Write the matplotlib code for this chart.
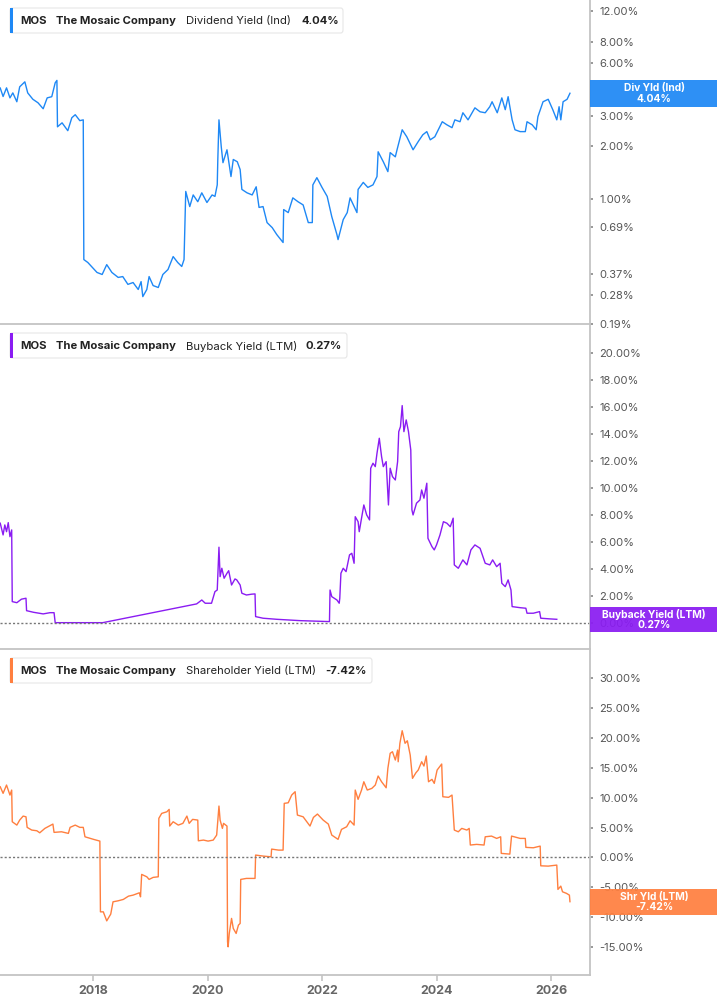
import matplotlib
matplotlib.use("Agg")
import matplotlib.pyplot as plt
from matplotlib.patches import FancyBboxPatch, Rectangle
from matplotlib.ticker import FixedLocator, FuncFormatter, NullFormatter

plt.rcParams["font.family"] = ["Inter", "DejaVu Sans"]

# ---- data (decimal years, percent) ----
div_years = [
    2016.38, 2016.43, 2016.49, 2016.55, 2016.60, 2016.67, 2016.72, 2016.81, 2016.86, 2016.95,
    2017.04, 2017.13, 2017.20, 2017.28, 2017.34, 2017.37, 2017.38, 2017.46, 2017.56, 2017.63,
    2017.69, 2017.77, 2017.83, 2017.84, 2017.91, 2018.07, 2018.16, 2018.24, 2018.33, 2018.44,
    2018.52, 2018.61, 2018.70, 2018.79, 2018.84, 2018.87, 2018.94, 2018.98, 2019.05, 2019.14,
    2019.22, 2019.31, 2019.40, 2019.48, 2019.55, 2019.59, 2019.62, 2019.69, 2019.75, 2019.83,
    2019.90, 2019.99, 2020.08, 2020.13, 2020.17, 2020.18, 2020.20, 2020.24, 2020.27, 2020.34,
    2020.41, 2020.45, 2020.52, 2020.57, 2020.60, 2020.69, 2020.78, 2020.85, 2020.90, 2020.97,
    2021.04, 2021.13, 2021.21, 2021.32, 2021.33, 2021.41, 2021.49, 2021.58, 2021.67, 2021.76,
    2021.83, 2021.84, 2021.91, 2022.00, 2022.09, 2022.17, 2022.26, 2022.28, 2022.37, 2022.44,
    2022.49, 2022.61, 2022.63, 2022.72, 2022.80, 2022.89, 2022.96, 2022.98, 2023.07, 2023.15,
    2023.19, 2023.28, 2023.31, 2023.40, 2023.48, 2023.59, 2023.68, 2023.76, 2023.83, 2023.89,
    2023.97, 2024.10, 2024.18, 2024.27, 2024.32, 2024.41, 2024.46, 2024.55, 2024.67, 2024.76,
    2024.85, 2024.93, 2024.97, 2025.06, 2025.14, 2025.20, 2025.25, 2025.32, 2025.37, 2025.46,
    2025.55, 2025.58, 2025.67, 2025.74, 2025.77, 2025.86, 2025.95, 2026.03, 2026.10, 2026.14,
    2026.17, 2026.21, 2026.28, 2026.33,
]
div_yield = [
    4.33, 3.87, 4.34, 3.80, 4.06, 3.61, 4.40, 4.70, 4.06, 3.73,
    3.56, 3.29, 3.80, 3.86, 4.64, 4.79, 2.59, 2.73, 2.46, 2.92,
    3.04, 2.81, 2.84, 0.446, 0.429, 0.376, 0.366, 0.417, 0.376, 0.352,
    0.356, 0.321, 0.329, 0.300, 0.333, 0.273, 0.300, 0.356, 0.316, 0.308,
    0.366, 0.391, 0.464, 0.429, 0.407, 0.446, 1.10, 0.90, 1.05, 0.96,
    1.08, 0.95, 1.05, 1.03, 1.20, 1.68, 2.84, 1.99, 1.61, 1.91,
    1.34, 1.68, 1.63, 1.47, 1.13, 1.08, 1.05, 1.17, 0.89, 0.90,
    0.728, 0.681, 0.621, 0.559, 0.865, 0.831, 1.01, 0.96, 0.92, 0.728,
    0.728, 1.20, 1.32, 1.16, 1.03, 0.788, 0.621, 0.581, 0.757, 0.831,
    1.01, 0.831, 1.13, 1.24, 1.16, 1.20, 1.34, 1.86, 1.63, 1.43,
    1.84, 1.74, 1.91, 2.49, 2.27, 1.91, 2.13, 2.33, 2.43, 2.18,
    2.27, 2.77, 2.66, 2.56, 2.84, 2.77, 3.12, 2.84, 3.33, 3.16,
    3.12, 3.38, 3.61, 3.12, 3.80, 3.25, 3.86, 2.84, 2.49, 2.43,
    2.43, 2.77, 2.66, 2.49, 2.96, 3.61, 3.73, 3.25, 2.84, 3.38,
    2.84, 3.61, 3.73, 4.04,
]

buy_years = [
    2016.38, 2016.43, 2016.46, 2016.49, 2016.52, 2016.55, 2016.58, 2016.59, 2016.67, 2016.75,
    2016.83, 2016.84, 2016.96, 2017.13, 2017.25, 2017.32, 2017.34, 2018.17, 2019.81, 2019.90,
    2019.96, 2020.07, 2020.13, 2020.17, 2020.20, 2020.22, 2020.25, 2020.29, 2020.34, 2020.37,
    2020.42, 2020.48, 2020.51, 2020.57, 2020.60, 2020.68, 2020.77, 2020.83, 2020.84, 2020.97,
    2021.21, 2021.62, 2022.13, 2022.14, 2022.17, 2022.26, 2022.30, 2022.31, 2022.33, 2022.37,
    2022.42, 2022.48, 2022.52, 2022.56, 2022.58, 2022.63, 2022.65, 2022.69, 2022.73, 2022.78,
    2022.83, 2022.85, 2022.89, 2022.93, 2022.96, 2023.00, 2023.04, 2023.07, 2023.12, 2023.16,
    2023.19, 2023.23, 2023.28, 2023.32, 2023.34, 2023.37, 2023.40, 2023.43, 2023.47, 2023.51,
    2023.55, 2023.57, 2023.59, 2023.65, 2023.71, 2023.74, 2023.78, 2023.83, 2023.85, 2023.92,
    2023.96, 2024.00, 2024.06, 2024.12, 2024.18, 2024.24, 2024.29, 2024.31, 2024.38, 2024.46,
    2024.53, 2024.60, 2024.67, 2024.76, 2024.85, 2024.93, 2024.98, 2025.05, 2025.11, 2025.14,
    2025.20, 2025.25, 2025.30, 2025.32, 2025.46, 2025.56, 2025.58, 2025.69, 2025.80, 2025.82,
    2025.98, 2026.10,
]
buy_yield = [
    7.39, 6.52, 7.26, 6.76, 7.43, 6.39, 6.89, 1.58, 1.50, 1.76,
    1.83, 0.91, 0.79, 0.67, 0.76, 0.76, 0.02, 0.02, 1.41, 1.70,
    1.46, 1.46, 2.32, 2.44, 5.61, 3.43, 4.05, 3.31, 3.68, 3.87,
    2.81, 3.26, 3.19, 2.81, 2.20, 2.07, 2.13, 2.15, 0.47, 0.35,
    0.27, 0.17, 0.10, 2.44, 1.95, 1.70, 1.46, 1.83, 3.68, 4.05,
    3.80, 5.04, 5.16, 4.42, 7.87, 7.50, 6.76, 7.76, 8.74, 8.00,
    7.63, 11.46, 11.83, 11.58, 12.57, 13.68, 12.32, 11.58, 11.95, 8.74,
    11.46, 10.84, 10.59, 11.95, 14.17, 14.54, 16.10, 14.17, 15.04, 14.17,
    12.81, 8.37, 8.00, 8.87, 9.11, 9.85, 9.24, 10.35, 6.27, 5.65,
    5.41, 5.78, 6.52, 7.50, 7.39, 7.13, 7.76, 4.30, 4.05, 4.67,
    4.30, 5.41, 5.78, 5.53, 4.42, 4.30, 4.67, 4.17, 4.42, 2.94,
    2.69, 3.19, 2.44, 1.21, 1.13, 1.09, 0.72, 0.72, 0.84, 0.35,
    0.30, 0.27,
]

shr_years = [
    2016.38, 2016.43, 2016.49, 2016.55, 2016.58, 2016.59, 2016.67, 2016.72, 2016.78, 2016.83,
    2016.85, 2016.93, 2017.02, 2017.07, 2017.16, 2017.30, 2017.32, 2017.45, 2017.57, 2017.60,
    2017.69, 2017.77, 2017.83, 2017.86, 2018.01, 2018.12, 2018.13, 2018.18, 2018.24, 2018.31,
    2018.35, 2018.44, 2018.53, 2018.62, 2018.70, 2018.81, 2018.83, 2018.85, 2018.94, 2018.98,
    2019.05, 2019.14, 2019.15, 2019.20, 2019.29, 2019.33, 2019.34, 2019.40, 2019.49, 2019.57,
    2019.64, 2019.68, 2019.74, 2019.83, 2019.84, 2019.93, 2020.01, 2020.10, 2020.16, 2020.20,
    2020.22, 2020.26, 2020.28, 2020.34, 2020.35, 2020.36, 2020.38, 2020.42, 2020.45, 2020.50,
    2020.54, 2020.57, 2020.58, 2020.68, 2020.83, 2020.84, 2020.97, 2021.11, 2021.12, 2021.24,
    2021.32, 2021.34, 2021.41, 2021.47, 2021.53, 2021.57, 2021.67, 2021.79, 2021.85, 2021.92,
    2022.02, 2022.11, 2022.17, 2022.28, 2022.34, 2022.43, 2022.49, 2022.56, 2022.58, 2022.63,
    2022.69, 2022.73, 2022.79, 2022.87, 2022.93, 2022.98, 2023.04, 2023.12, 2023.15, 2023.19,
    2023.23, 2023.28, 2023.32, 2023.33, 2023.36, 2023.40, 2023.45, 2023.49, 2023.54, 2023.58,
    2023.64, 2023.68, 2023.74, 2023.78, 2023.82, 2023.86, 2023.92, 2023.96, 2024.01, 2024.09,
    2024.11, 2024.21, 2024.27, 2024.31, 2024.38, 2024.44, 2024.53, 2024.57, 2024.59, 2024.70,
    2024.83, 2024.85, 2024.96, 2025.05, 2025.12, 2025.13, 2025.28, 2025.31, 2025.46, 2025.55,
    2025.56, 2025.69, 2025.81, 2025.82, 2025.95, 2026.10, 2026.12, 2026.17, 2026.20, 2026.27,
    2026.32, 2026.33,
]
shr_yield = [
    11.83, 10.73, 12.12, 10.44, 11.28, 5.97, 5.41, 6.25, 6.92, 6.80,
    5.03, 4.58, 4.46, 4.12, 4.86, 5.58, 4.19, 4.29, 4.02, 5.03,
    5.41, 5.03, 5.03, 3.45, 3.02, 2.73, -9.12, -9.12, -10.63, -9.50,
    -7.44, -7.27, -7.04, -6.49, -6.32, -5.93, -6.60, -2.85, -3.25, -3.69,
    -3.35, -3.25, 6.54, 7.37, 7.64, 8.04, 5.25, 5.97, 5.41, 5.70,
    6.92, 5.70, 6.37, 6.25, 2.78, 2.90, 2.73, 2.90, 3.74, 8.60,
    6.25, 4.86, 5.70, 5.25, -14.14, -14.98, -12.74, -10.22, -11.90, -12.74,
    -11.35, -11.06, -3.69, -3.52, -3.52, 0.39, 0.22, 0.10, 1.39, 1.22,
    1.22, 9.05, 9.15, 10.44, 11.00, 7.09, 6.80, 5.25, 6.70, 7.26,
    6.25, 5.58, 3.74, 3.02, 4.69, 5.13, 6.13, 5.41, 11.28, 9.72,
    11.28, 12.67, 11.28, 11.56, 12.12, 13.63, 12.67, 11.66, 14.92, 17.43,
    17.70, 16.31, 17.98, 16.02, 19.11, 21.22, 19.11, 19.54, 17.14, 13.24,
    14.18, 14.63, 16.02, 15.30, 16.98, 12.67, 13.07, 12.40, 14.63, 15.64,
    10.16, 10.06, 10.44, 4.58, 4.29, 4.86, 4.58, 4.86, 2.07, 2.18,
    2.07, 3.45, 3.57, 3.18, 3.45, 0.67, 0.55, 3.57, 3.18, 3.18,
    1.68, 1.61, 1.89, -1.41, -1.46, -1.29, -5.36, -4.81, -5.76, -6.03,
    -6.32, -7.42,
]

div_ticks = [0.19, 0.28, 0.37, 0.69, 1.0, 2.0, 3.0, 6.0, 8.0, 12.0]
buy_ticks = list(range(0, 21, 2))
shr_ticks = list(range(-15, 31, 5))
year_ticks = [2018, 2020, 2022, 2024, 2026]

BLUE = "#1e88f5"
PURPLE = "#8a1cf2"
ORANGE = "#ff7f3f"

W, H = 717, 1005
fig = plt.figure(figsize=(W / 100, H / 100), dpi=100)


def fx(px):
    return px / W


def fy(py):
    return 1 - py / H


def add_panel(top, bottom):
    ax = fig.add_axes([0, fy(bottom), fx(590), (bottom - top) / H])
    ax.set_facecolor("none")
    for s in ("top", "left"):
        ax.spines[s].set_visible(False)
    for s in ("bottom", "right"):
        ax.spines[s].set_color("#c4c4c4")
        ax.spines[s].set_linewidth(1.3)
    ax.yaxis.tick_right()
    ax.tick_params(axis="y", which="both", length=2.5, width=1.2, color="#888888",
                   labelsize=8, labelcolor="#555555", pad=4)
    ax.set_xlim(2016.376, 2026.68)
    ax.xaxis.set_major_locator(FixedLocator(year_ticks))
    ax.tick_params(axis="x", length=0, labelbottom=False)
    return ax


pct = FuncFormatter(lambda v, p: f"{v:.2f}%")

# top: dividend yield (log)
ax1 = add_panel(0, 324)
ax1.plot(div_years, div_yield, color=BLUE, lw=1.0)
ax1.set_yscale("log")
ax1.set_ylim(0.1899, 13.9)
ax1.yaxis.set_major_locator(FixedLocator(div_ticks))
ax1.yaxis.set_minor_formatter(NullFormatter())
ax1.yaxis.set_minor_locator(FixedLocator([]))
ax1.yaxis.set_major_formatter(pct)

# middle: buyback yield
ax2 = add_panel(325, 649)
ax2.plot(buy_years, buy_yield, color=PURPLE, lw=1.0)
ax2.axhline(0, color="#777777", lw=1.0, ls=(0, (1.5, 1.5)))
ax2.set_ylim(-1.93, 22.07)
ax2.yaxis.set_major_locator(FixedLocator(buy_ticks))
ax2.yaxis.set_major_formatter(pct)

# bottom: shareholder yield
ax3 = add_panel(650, 975)
ax3.plot(shr_years, shr_yield, color=ORANGE, lw=1.0)
ax3.axhline(0, color="#777777", lw=1.0, ls=(0, (1.5, 1.5)))
ax3.set_ylim(-19.7, 34.74)
ax3.yaxis.set_major_locator(FixedLocator(shr_ticks))
ax3.yaxis.set_major_formatter(pct)
ax3.tick_params(axis="x", length=4, width=1.2, color="#c4c4c4", labelbottom=True,
                labelsize=9, labelcolor="#666666", pad=3)
ax3.set_xticklabels([str(y) for y in year_ticks], fontweight="bold")


def legend_box(top, color, name, value, right, value_x):
    box = FancyBboxPatch((fx(10), fy(top + 33)), fx(right) - fx(10), 25 / H,
                         boxstyle="round,pad=0,rounding_size=0.003",
                         transform=fig.transFigure, facecolor="white",
                         edgecolor="#e6e6e6", lw=0.8, zorder=4)
    fig.add_artist(box)
    fig.add_artist(Rectangle((fx(10), fy(top + 33)), 3 / W, 25 / H,
                             transform=fig.transFigure, facecolor=color,
                             edgecolor="none", zorder=5))
    yc = fy(top + 21)
    kw = dict(va="center", ha="left", fontsize=8.1, color="#222222", zorder=6)
    fig.text(fx(20), yc, "MOS", fontweight="bold", **kw)
    fig.text(fx(56), yc, "The Mosaic Company", fontweight="bold", **kw)
    fig.text(fx(186), yc, name, **kw)
    fig.text(fx(value_x), yc, value, fontweight="bold", **kw)


legend_box(0, BLUE, "Dividend Yield (Ind)", "4.04%", 343, 301)
legend_box(325, PURPLE, "Buyback Yield (LTM)", "0.27%", 347, 305)
legend_box(650, ORANGE, "Shareholder Yield (LTM)", "-7.42%", 372, 325)


def value_tag(top, bottom, color, label, value):
    fig.add_artist(Rectangle((fx(590), fy(bottom)), 1 - fx(590), (bottom - top) / H,
                             transform=fig.transFigure, facecolor=color,
                             edgecolor="none", alpha=0.93, zorder=4))
    fig.text(fx(654), fy(top + (bottom - top) * 0.5), f"{label}\n{value}",
             ha="center", va="center", color="white", fontsize=7.4,
             fontweight="bold", linespacing=1.1, zorder=6)


value_tag(80, 107, BLUE, "Div Yld (Ind)", "4.04%")
value_tag(607, 632, PURPLE, "Buyback Yield (LTM)", "0.27%")
value_tag(889, 915, ORANGE, "Shr Yld (LTM)", "-7.42%")

fig.savefig("out.png", dpi=100)
